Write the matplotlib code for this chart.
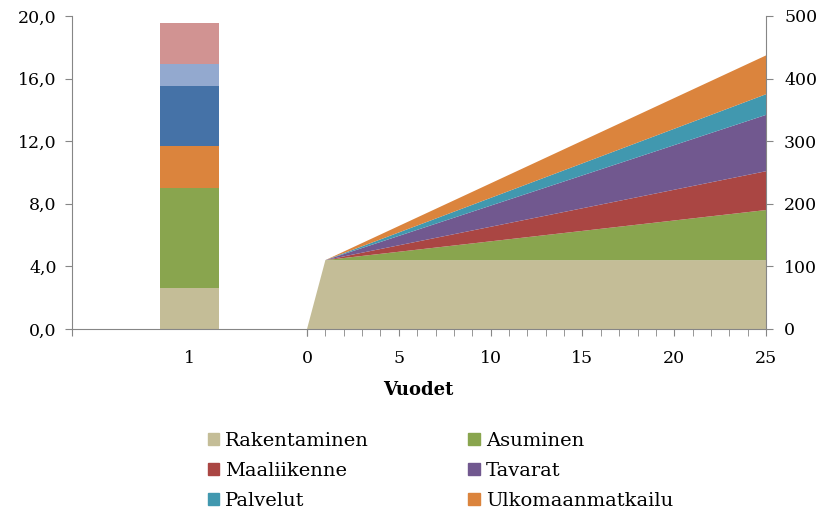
import matplotlib
matplotlib.use("Agg")
import matplotlib.pyplot as plt
from matplotlib.patches import Patch
from matplotlib.ticker import FuncFormatter, MultipleLocator

# stacked bar on the left axis (one category, "1")
bar_category = ["1"]
bar_values = [2.6, 6.43, 2.66, 3.86, 1.36, 2.66]
bar_colors = ["#C4BD97", "#89A54E", "#DB843D", "#4572A7", "#93A9CF", "#D19392"]

# cumulative series on the right axis, by year
years = [0, 1, 25]
rakentaminen = [0, 110, 110]
asuminen = [0, 0, 80]
maaliikenne = [0, 0, 62]
tavarat = [0, 0, 90]
palvelut = [0, 0, 33]
ulkomaanmatkailu = [0, 0, 62]

series_names = ["Rakentaminen", "Asuminen", "Maaliikenne", "Tavarat",
                "Palvelut", "Ulkomaanmatkailu"]
series_colors = ["#C4BD97", "#89A54E", "#AA4643", "#71588F", "#4198AF", "#DB843D"]

plt.rcParams["font.family"] = ["DejaVu Serif"]
grey = "#868686"
tick_size = 12.5

fig = plt.figure(figsize=(8.26, 5.15), dpi=100)
ax_bar = fig.add_axes([0.0872, 0.3612, 0.2845, 0.6078])
ax_area = fig.add_axes([0.3717, 0.3612, 0.5557, 0.6078])

# left part: stacked column
bottom = 0
for v, c in zip(bar_values, bar_colors):
    ax_bar.bar(0, v, width=0.25, bottom=bottom, color=c, linewidth=0)
    bottom += v
ax_bar.set_xlim(-0.5, 0.5)
ax_bar.set_ylim(0, 20)
ax_bar.yaxis.set_major_locator(MultipleLocator(4))
ax_bar.yaxis.set_major_formatter(FuncFormatter(lambda v, p: f"{v:.1f}".replace(".", ",")))
ax_bar.set_xticks([-0.5, 0.5])
ax_bar.set_xticklabels(["", ""])
ax_bar.set_xticks([0], minor=True)
ax_bar.set_xticklabels(bar_category, minor=True)
ax_bar.tick_params(axis="x", which="minor", length=0, pad=15, labelsize=tick_size)
ax_bar.tick_params(axis="x", which="major", length=5, color=grey)
ax_bar.tick_params(axis="y", length=5, color=grey, labelsize=tick_size, pad=6)
for s in ["top", "right"]:
    ax_bar.spines[s].set_visible(False)
for s in ["left", "bottom"]:
    ax_bar.spines[s].set_color(grey)

# right part: stacked areas
ax_area.stackplot(years, rakentaminen, asuminen, maaliikenne, tavarat,
                  palvelut, ulkomaanmatkailu, colors=series_colors,
                  labels=series_names, linewidth=0)
ax_area.set_xlim(0, 25)
ax_area.set_ylim(0, 500)
ax_area.xaxis.set_major_locator(MultipleLocator(5))
ax_area.xaxis.set_minor_locator(MultipleLocator(1))
ax_area.yaxis.set_major_locator(MultipleLocator(100))
ax_area.yaxis.tick_right()
ax_area.tick_params(axis="x", which="both", length=5, color=grey,
                    labelsize=tick_size, pad=10)
ax_area.tick_params(axis="y", length=5, color=grey, labelsize=tick_size, pad=8)
for s in ["top", "left"]:
    ax_area.spines[s].set_visible(False)
for s in ["right", "bottom"]:
    ax_area.spines[s].set_color(grey)

fig.text(0.507, 0.243, "Vuodet", ha="center", va="center",
         fontsize=13, fontweight="bold")

# legend filled row by row
handles = [Patch(color=c, label=n) for n, c in zip(series_names, series_colors)]
order = [0, 2, 4, 1, 3, 5]
fig.legend([handles[i] for i in order], [series_names[i] for i in order],
           ncol=2, loc="center", bbox_to_anchor=(0.533, 0.086), frameon=False,
           fontsize=14, handlelength=0.6, handleheight=0.6, handletextpad=0.3,
           columnspacing=5.1, labelspacing=0.62)

fig.savefig("out.png", dpi=100)
